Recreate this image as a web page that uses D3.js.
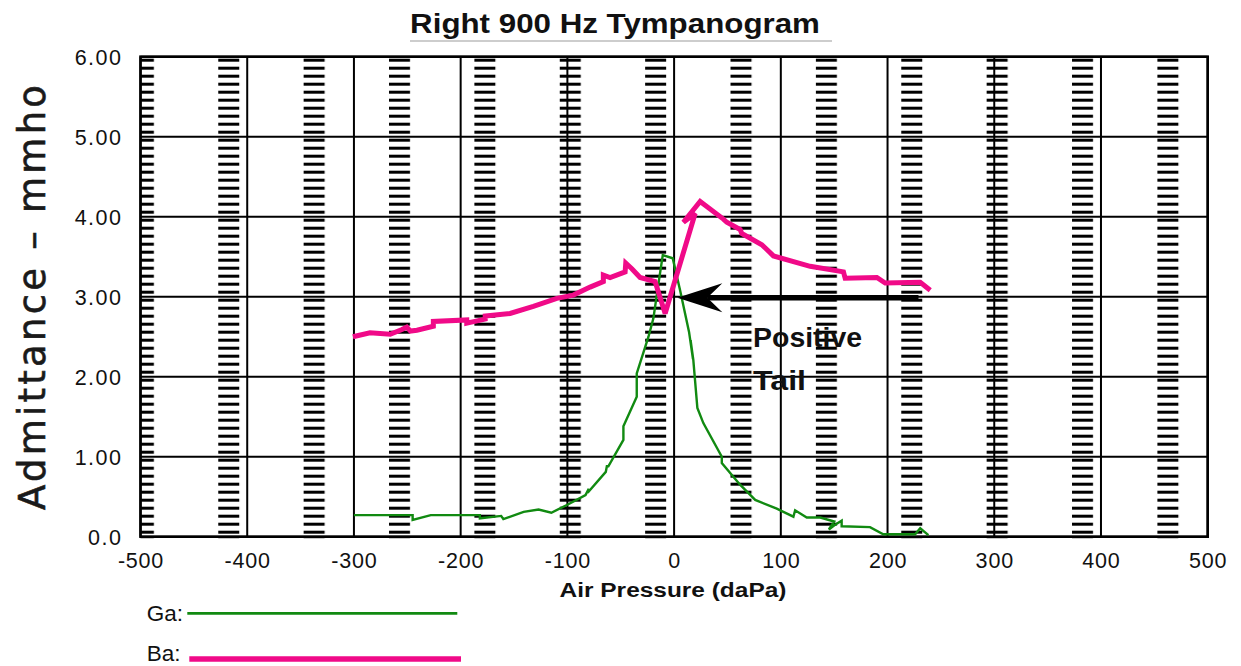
<!DOCTYPE html>
<html>
<head>
<meta charset="utf-8">
<script src="https://cdn.jsdelivr.net/npm/d3@7"></script>
<style>
  html, body { margin: 0; padding: 0; background: #fff; }
  svg { display: block; }
</style>
</head>
<body>
<svg id="chart" width="1241" height="666"></svg>
<script>
// Tympanogram readings: air pressure (daPa) against admittance (mmho)
const gaPressure = [-300, -245, -245, -228, -182, -182, -162, -160, -141, -127, -115, -100, -83, -80, -81, -64, -63, -61.6, -47.5, -47.5, -35, -35, -24, -19.4, -14.7, -10.6, -1.3, 5.6, 14, 17.7, 15.5, 18, 21.8, 27.4, 44.7, 44.7, 61.8, 76, 96.2, 111.8, 113.4, 124.3, 137, 150, 145, 152, 157, 157, 183.6, 196, 225.9, 230.6, 238.3];
const gaValue    = [0.27, 0.27, 0.21, 0.27, 0.27, 0.23, 0.26, 0.22, 0.31, 0.34, 0.30, 0.40, 0.52, 0.60, 0.55, 0.81, 0.88, 0.88, 1.21, 1.38, 1.75, 2.04, 2.50, 2.73, 3.16, 3.52, 3.48, 3.08, 2.56, 2.22, 2.45, 2.21, 1.61, 1.42, 1.00, 0.92, 0.65, 0.46, 0.35, 0.25, 0.33, 0.24, 0.24, 0.19, 0.09, 0.16, 0.20, 0.13, 0.12, 0.03, 0.03, 0.105, 0.02];

const baPressure = [-301, -285, -266, -255, -250.5, -247, -241, -225.6, -225.6, -194.3, -194.3, -177, -177, -153.7, -131.9, -109.9, -94.4, -78.7, -66.3, -66.3, -60, -45.9, -45.3, -39.6, -31.9, -17.8, -8.4, 19.7, 8.7, 24.4, 46.2, 49.4, 61.9, 63.4, 82.2, 93.1, 127.5, 158.7, 160.3, 190, 197.8, 230.6, 240];
const baValue    = [2.50, 2.55, 2.53, 2.59, 2.62, 2.57, 2.58, 2.63, 2.69, 2.71, 2.67, 2.72, 2.76, 2.79, 2.88, 2.98, 3.02, 3.12, 3.19, 3.27, 3.24, 3.31, 3.42, 3.35, 3.24, 3.19, 2.79, 4.04, 3.93, 4.19, 3.97, 3.93, 3.84, 3.79, 3.65, 3.51, 3.38, 3.31, 3.23, 3.24, 3.17, 3.18, 3.08];

const xTicks = [-500, -400, -300, -200, -100, 0, 100, 200, 300, 400, 500];
const xTickLabels = ["-500", "-400", "-300", "-200", "-100", "0", "100", "200", "300", "400", "500"];
const yTicks = [0, 1, 2, 3, 4, 5, 6];
const yTickLabels = ["0.0", "1.00", "2.00", "3.00", "4.00", "5.00", "6.00"];

// "Positive Tail" annotation arrow (pressure, admittance)
const arrowFrom = [229, 3.0];
const arrowTo = [3, 3.0];

const GREEN = "#118a11";
const PINK = "#f00a88";
const SANS = "'Liberation Sans', Arial, sans-serif";

const svg = d3.select("#chart");
const plotLeft = 140.5, plotRight = 1207.7, plotTop = 56.7, plotBottom = 536.7;

const x = d3.scaleLinear().domain([-500, 500]).range([plotLeft, plotRight]);
const y = d3.scaleLinear().domain([0, 6]).range([plotBottom, plotTop]);

// Stretch a text horizontally to a given width, anchored at (ax, ay)
function stretch(sel, width, ax, ay, anchor) {
  sel.attr("x", 0).attr("y", 0).attr("text-anchor", anchor);
  const w = sel.node().getComputedTextLength();
  sel.attr("transform", `translate(${ax},${ay}) scale(${width / w},1)`);
  return sel;
}

// Ladder-style hatch columns behind the grid, one every 80 daPa
const defs = svg.append("defs");
const hatchStep = x(80) - x(0);
const hatch = defs.append("pattern")
  .attr("id", "ladder")
  .attr("patternUnits", "userSpaceOnUse")
  .attr("x", x(-417.3) - 10.5)
  .attr("y", plotTop + 2)
  .attr("width", hatchStep)
  .attr("height", 8);
hatch.append("rect").attr("x", 0).attr("y", 0).attr("width", 21).attr("height", 3).attr("fill", "#000");

defs.append("clipPath").attr("id", "plotClip")
  .append("rect").attr("x", plotLeft).attr("y", plotTop)
  .attr("width", plotRight - plotLeft).attr("height", plotBottom - plotTop);

svg.append("rect")
  .attr("x", plotLeft).attr("y", plotTop)
  .attr("width", plotRight - plotLeft).attr("height", plotBottom - plotTop + 2)
  .attr("fill", "url(#ladder)");

// Grid
const grid = svg.append("g").attr("stroke", "#000").attr("stroke-width", 2);
grid.selectAll("line.v").data(xTicks).join("line")
  .attr("class", "v")
  .attr("x1", d => x(d)).attr("x2", d => x(d))
  .attr("y1", plotTop).attr("y2", plotBottom);
grid.selectAll("line.h").data(yTicks).join("line")
  .attr("class", "h")
  .attr("x1", plotLeft).attr("x2", plotRight)
  .attr("y1", d => y(d)).attr("y2", d => y(d));

// Frame
svg.append("rect")
  .attr("x", plotLeft).attr("y", plotTop)
  .attr("width", plotRight - plotLeft).attr("height", plotBottom - plotTop)
  .attr("fill", "none").attr("stroke", "#000").attr("stroke-width", 2.6);

// Axes (labels only; grid draws the rules)
const xAxis = d3.axisBottom(x).tickValues(xTicks).tickSize(0).tickPadding(0)
  .tickFormat((d, i) => xTickLabels[i]);
const gx = svg.append("g").attr("transform", `translate(0,${plotBottom})`).call(xAxis);
gx.select(".domain").remove();
gx.selectAll("text")
  .attr("y", 31).attr("dy", null)
  .attr("font-family", SANS)
  .attr("font-size", 21.5).attr("fill", "#111")
  .attr("letter-spacing", 0.8);

const yAxis = d3.axisLeft(y).tickValues(yTicks).tickSize(0).tickPadding(0)
  .tickFormat((d, i) => yTickLabels[i]);
const gy = svg.append("g").attr("transform", `translate(${plotLeft},0)`).call(yAxis);
gy.select(".domain").remove();
gy.selectAll("text")
  .attr("x", -18).attr("dy", "0.36em")
  .attr("font-family", SANS)
  .attr("font-size", 21.5).attr("fill", "#111")
  .attr("letter-spacing", 1.5);

// Series
const plot = svg.append("g").attr("clip-path", "url(#plotClip)");
const line = d3.line().x(d => x(d[0])).y(d => y(d[1]));

const gaPoints = gaPressure.map((p, i) => [p, gaValue[i]]);
const baPoints = baPressure.map((p, i) => [p, baValue[i]]);

plot.append("path").datum(gaPoints)
  .attr("d", line).attr("fill", "none")
  .attr("stroke", GREEN).attr("stroke-width", 2.4).attr("stroke-linejoin", "miter");

plot.append("path").datum(baPoints)
  .attr("d", line).attr("fill", "none")
  .attr("stroke", PINK).attr("stroke-width", 5).attr("stroke-linejoin", "miter").attr("stroke-miterlimit", 3);

// Annotation arrow
const ax0 = x(arrowFrom[0]), ay = y(arrowFrom[1]) + 1, tipX = x(arrowTo[0]);
const headLen = 45, headHalf = 14.5, notch = 15;
svg.append("line")
  .attr("x1", ax0).attr("x2", tipX + headLen - notch)
  .attr("y1", ay).attr("y2", ay)
  .attr("stroke", "#000").attr("stroke-width", 5.5);
svg.append("path")
  .attr("d", `M${tipX},${ay} L${tipX + headLen},${ay - headHalf} L${tipX + headLen - notch},${ay} L${tipX + headLen},${ay + headHalf} Z`)
  .attr("fill", "#000");

const note = svg.append("g")
  .attr("font-family", SANS)
  .attr("font-weight", "bold").attr("font-size", 28).attr("fill", "#111");
stretch(note.append("text").text("Positive"), 109, x(74), y(2.375), "start");
stretch(note.append("text").text("Tail"), 53, x(74), y(1.84), "start");

// Title
stretch(svg.append("text")
  .attr("font-family", SANS)
  .attr("font-weight", "bold").attr("font-size", 28).attr("fill", "#111")
  .text("Right 900 Hz Tympanogram"), 410, 615, 33.3, "middle");
svg.append("line")
  .attr("x1", 410).attr("x2", 832).attr("y1", 41).attr("y2", 41)
  .attr("stroke", "#bdbdbd").attr("stroke-width", 1.5);

// Axis titles
stretch(svg.append("text")
  .attr("font-family", SANS)
  .attr("font-weight", "bold").attr("font-size", 20.5).attr("fill", "#111")
  .text("Air Pressure (daPa)"), 227, 673, 596.7, "middle");

svg.append("text")
  .attr("transform", "translate(45,297.5) rotate(-90)")
  .attr("text-anchor", "middle")
  .attr("font-family", "'DejaVu Sans', sans-serif")
  .attr("font-size", 37).attr("fill", "#1a1a1a")
  .attr("stroke", "#1a1a1a").attr("stroke-width", 0.6)
  .attr("textLength", 425).attr("lengthAdjust", "spacing")
  .text("Admittance \u2013 mmho");

// Legend
const legend = svg.append("g")
  .attr("font-family", SANS)
  .attr("font-size", 22.5).attr("fill", "#111");
legend.append("text").attr("x", 146.7).attr("y", 621).text("Ga:");
legend.append("line").attr("x1", 187.3).attr("x2", 457.3).attr("y1", 613.3).attr("y2", 613.3)
  .attr("stroke", GREEN).attr("stroke-width", 2.8);
legend.append("text").attr("x", 146.7).attr("y", 661).text("Ba:");
legend.append("line").attr("x1", 189.3).attr("x2", 461).attr("y1", 659).attr("y2", 659)
  .attr("stroke", PINK).attr("stroke-width", 5.3);
</script>
</body>
</html>
